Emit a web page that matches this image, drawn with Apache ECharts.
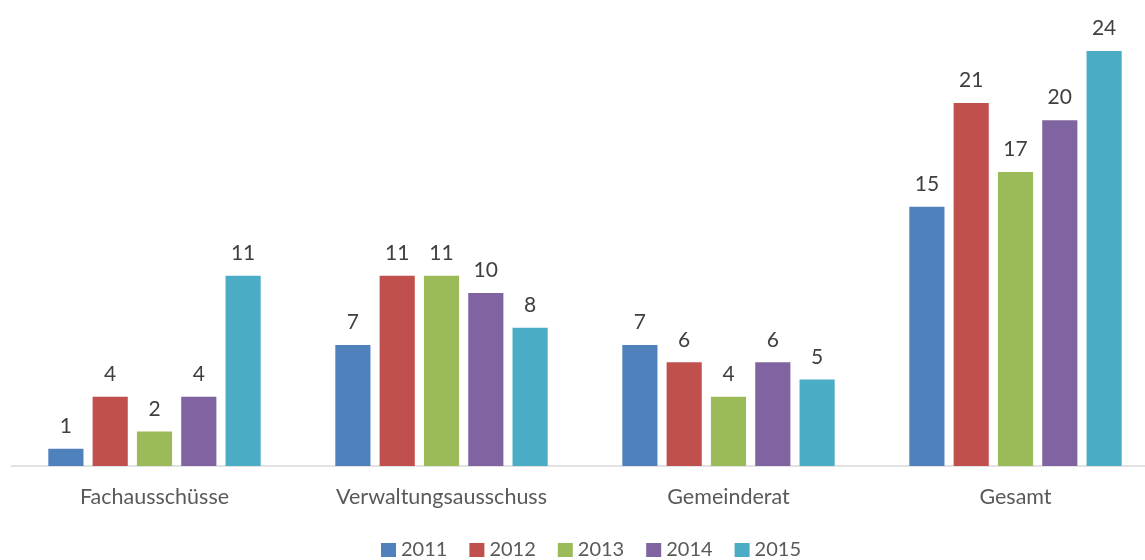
<!DOCTYPE html>
<html>
<head>
<meta charset="utf-8">
<script src="https://cdn.jsdelivr.net/npm/echarts@6/dist/echarts.min.js"></script>
<style>
  html, body { margin: 0; padding: 0; background: #fff; }
  #chart { width: 1145px; height: 560px; }
</style>
</head>
<body>
<div id="chart"></div>
<script>
var categories = ['Fachausschüsse', 'Verwaltungsausschuss', 'Gemeinderat', 'Gesamt'];
var years = ['2011', '2012', '2013', '2014', '2015'];
var values2011 = [1, 7, 7, 15];
var values2012 = [4, 11, 6, 21];
var values2013 = [2, 11, 4, 17];
var values2014 = [4, 10, 6, 20];
var values2015 = [11, 8, 5, 24];
var colors = ['#4F81BD', '#C0504D', '#9BBB59', '#8064A2', '#4BACC6'];

var allValues = [values2011, values2012, values2013, values2014, values2015];

var myChart = echarts.init(document.getElementById('chart'));

var series = years.map(function (y, i) {
	return {
		name : y,
		type : 'bar',
		data : allValues[i],
		barGap : '26%',
		barCategoryGap : '26%',
		label : {
			show : true,
			position : 'top',
			distance : 12,
			color : '#404040',
			fontSize : 21,
			fontFamily : 'Lato'
		}
	};
});

var option = {
	color : colors,
	animation : false,
	legend : {
		bottom : -5,
		left : 376,
		itemWidth : 15,
		itemHeight : 14,
		itemGap : 22,
		icon : 'rect',
		textStyle : {
			color : '#595959',
			fontSize : 20,
			fontFamily : 'Lato'
		},
		data : years
	},
	grid : {
		left : 11,
		right : -14,
		top : 51,
		bottom : 94,
		outerBoundsMode : 'none'
	},
	xAxis : {
		type : 'category',
		data : categories,
		axisTick : { show : false },
		axisLine : { lineStyle : { color : '#D9D9D9', width : 1.5 } },
		axisLabel : {
			color : '#595959',
			fontSize : 21.5,
			fontFamily : 'Lato',
			margin : 20
		}
	},
	yAxis : {
		type : 'value',
		min : 0,
		max : 24,
		show : false,
		splitLine : { show : false }
	},
	series : series
};

myChart.setOption(option);
</script>
</body>
</html>
